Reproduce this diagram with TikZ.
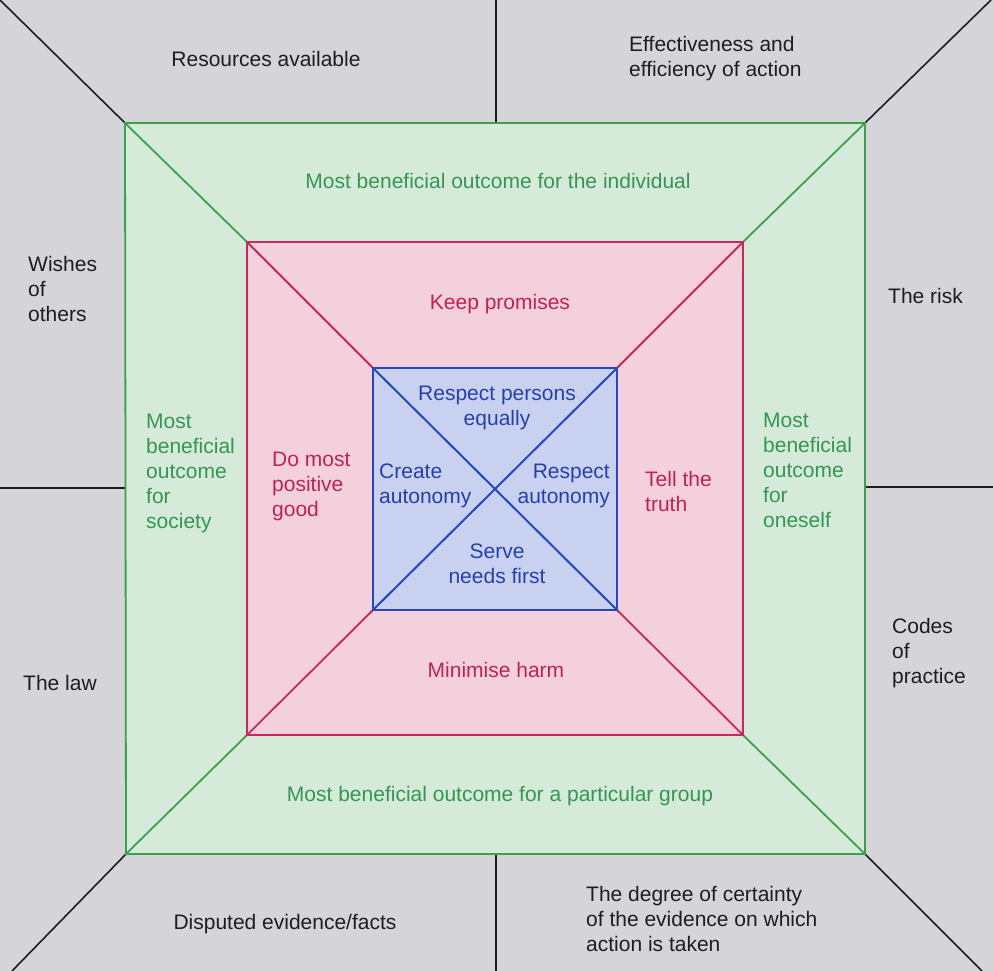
\documentclass[tikz,border=0pt]{standalone}
\usepackage{fontspec}
\setmainfont{Liberation Sans}
\definecolor{bgc}{RGB}{213,212,216}
\definecolor{gfill}{RGB}{214,234,218}
\definecolor{gline}{RGB}{60,160,80}
\definecolor{gtext}{RGB}{52,150,82}
\definecolor{rfill}{RGB}{243,208,220}
\definecolor{rline}{RGB}{200,40,90}
\definecolor{rtext}{RGB}{192,34,84}
\definecolor{bfill}{RGB}{200,210,240}
\definecolor{bline}{RGB}{40,70,190}
\definecolor{btext}{RGB}{40,62,172}
\definecolor{ktext}{RGB}{30,30,30}
\newcommand{\mlL}[1]{\begin{tabular}[t]{@{}l@{}}#1\end{tabular}}
\newcommand{\mlC}[1]{\begin{tabular}[t]{@{}c@{}}#1\end{tabular}}
\newcommand{\mlR}[1]{\begin{tabular}[t]{@{}r@{}}#1\end{tabular}}
\begin{document}
\begin{tikzpicture}[x=1pt,y=-1pt,
  lbl/.style={inner sep=0pt,font=\fontsize{21}{25}\selectfont},
  blk/.style={lbl,text=ktext},
  grn/.style={lbl,text=gtext},
  red/.style={lbl,text=rtext},
  blu/.style={lbl,text=btext},
  kline/.style={draw=ktext,line width=1.6pt},
  gln/.style={draw=gline,line width=1.8pt},
  rln/.style={draw=rline,line width=1.8pt},
  bln/.style={draw=bline,line width=2pt}]
\useasboundingbox (0,0) rectangle (993,971);
\fill[bgc] (0,0) rectangle (993,971);
% coordinates
\coordinate (TL) at (0,0);
\coordinate (TR) at (991,0);
\coordinate (BL) at (12,971);
\coordinate (BR) at (982,971);
\coordinate (g1) at (125,123);
\coordinate (g2) at (865,123);
\coordinate (g3) at (865,854);
\coordinate (g4) at (126,854);
\coordinate (r1) at (247,242);
\coordinate (r2) at (743,242);
\coordinate (r3) at (743,735);
\coordinate (r4) at (247,735);
\coordinate (b1) at (373,368);
\coordinate (b2) at (617,368);
\coordinate (b3) at (617,610);
\coordinate (b4) at (373,610);
\coordinate (tm0) at (496,0);
\coordinate (tm1) at (496,123);
\coordinate (bm0) at (496,854);
\coordinate (bm1) at (496,971);
\coordinate (lm0) at (0,488);
\coordinate (lm1) at (126,488);
\coordinate (rm0) at (865,487);
\coordinate (rm1) at (993,487);
% squares
\fill[gfill] (g1) -- (g2) -- (g3) -- (g4) -- cycle;
\fill[rfill] (r1) -- (r2) -- (r3) -- (r4) -- cycle;
\fill[bfill] (b1) -- (b2) -- (b3) -- (b4) -- cycle;
% outer black lines
\draw[kline] (TL) -- (g1);
\draw[kline] (TR) -- (g2);
\draw[kline] (BL) -- (g4);
\draw[kline] (BR) -- (g3);
\draw[kline] (tm0) -- (tm1);
\draw[kline] (bm0) -- (bm1);
\draw[kline] (lm0) -- (lm1);
\draw[kline] (rm0) -- (rm1);
% green
\draw[gln] (g1) -- (g2) -- (g3) -- (g4) -- cycle;
\draw[gln] (g1) -- (r1);
\draw[gln] (g2) -- (r2);
\draw[gln] (g3) -- (r3);
\draw[gln] (g4) -- (r4);
% red
\draw[rln] (r1) -- (r2) -- (r3) -- (r4) -- cycle;
\draw[rln] (r1) -- (b1);
\draw[rln] (r2) -- (b2);
\draw[rln] (r3) -- (b3);
\draw[rln] (r4) -- (b4);
% blue
\draw[bln] (b1) -- (b2) -- (b3) -- (b4) -- cycle;
\draw[bln] (b1) -- (b3);
\draw[bln] (b2) -- (b4);
% outer labels
\node[blk,anchor=base] (res) at (266,67) {Resources available};
\node[blk,anchor=base west] (eff) at (629,52) {\mlL{Effectiveness and\\efficiency of action}};
\node[blk,anchor=base west] (wish) at (28,271) {\mlL{Wishes\\of\\others}};
\node[blk,anchor=base west] (risk) at (888,303) {The risk};
\node[blk,anchor=base west] (law) at (23,690) {The law};
\node[blk,anchor=base west] (codes) at (892,633) {\mlL{Codes\\of\\practice}};
\node[blk,anchor=base] (disp) at (285,929) {Disputed evidence/facts};
\node[blk,anchor=base west] (deg) at (586,901) {\mlL{The degree of certainty\\of the evidence on which\\action is taken}};
% green labels
\node[grn,anchor=base] (gind) at (498,188) {Most beneficial outcome for the individual};
\node[grn,anchor=base] (ggrp) at (500,801) {Most beneficial outcome for a particular group};
\node[grn,anchor=base west] (gsoc) at (146,428) {\mlL{Most\\beneficial\\outcome\\for\\society}};
\node[grn,anchor=base west] (gone) at (763,427) {\mlL{Most\\beneficial\\outcome\\for\\oneself}};
% red labels
\node[red,anchor=base] (keep) at (500,309) {Keep promises};
\node[red,anchor=base] (harm) at (496,677) {Minimise harm};
\node[red,anchor=base west] (good) at (272,466) {\mlL{Do most\\positive\\good}};
\node[red,anchor=base west] (truth) at (645,486) {\mlL{Tell the\\truth}};
% blue labels
\node[blu,anchor=base] (resp) at (497,400) {\mlC{Respect persons\\equally}};
\node[blu,anchor=base west] (crea) at (379,478) {\mlL{Create\\autonomy}};
\node[blu,anchor=base east] (raut) at (610,478) {\mlR{Respect\\autonomy}};
\node[blu,anchor=base] (serve) at (497,558) {\mlC{Serve\\needs first}};
\end{tikzpicture}
\end{document}
